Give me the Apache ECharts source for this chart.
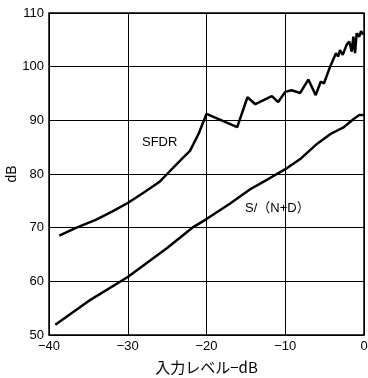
<!DOCTYPE html>
<html><head><meta charset="utf-8">
<script src="https://cdn.jsdelivr.net/npm/echarts@6/dist/echarts.min.js"></script>
<style>html,body{margin:0;padding:0;background:#fff}#c{width:368px;height:378px}</style>
</head><body><div id="c"></div>
<script>
var xTicks = [-40, -30, -20, -10, 0];
var yTicks = [50, 60, 70, 80, 90, 100, 110];
var sfdrX = [-38.7,-36.5,-34,-32,-30,-28,-26,-25,-24,-23,-22.1,-21,-20,-16.1,-14.8,-13.8,-11.7,-10.9,-10.0,-9.2,-8.1,-7.07,-6.13,-5.5,-5.08,-4.3,-3.56,-3.27,-3.05,-2.7,-2.2,-1.86,-1.56,-1.35,-1.14,-0.93,-0.6,-0.38,-0.09];
var sfdrY = [68.5,70,71.5,73,74.6,76.5,78.5,80,81.5,83,84.3,87.5,91.2,88.75,94.3,93.0,94.5,93.4,95.3,95.6,95.1,97.6,94.7,97.2,96.9,100,102.5,101.9,103.1,102.2,104.1,104.7,102.8,105.6,102.5,106.2,105.6,106.6,106];
var sndX = [-39.2,-35,-30,-25,-21.8,-20,-17,-14.4,-12,-10,-8,-5.9,-4.2,-2.54,-1.27,-0.6,0];
var sndY = [51.9,56.3,60.8,66.2,70,71.6,74.5,77.2,79.2,80.9,82.9,85.7,87.5,88.75,90.3,91,91];
function pairs(xs, ys){ return xs.map(function(x,i){return [x, ys[i]];}); }
var chart = echarts.init(document.getElementById('c'));
var font = 'Liberation Sans, Arial, sans-serif';
chart.setOption({
  animation:false,
  grid:{left:49, right:4, top:13, bottom:43, outerBoundsMode:'none', containLabel:false, show:true, borderColor:'#000', borderWidth:1.5},
  xAxis:{type:'value', min:-40, max:0, interval:10,
    axisLine:{show:false}, axisTick:{show:false},
    splitLine:{show:true, lineStyle:{color:'#000', width:1}},
    axisLabel:{color:'#000', fontSize:13, fontFamily:font, margin:5,
      formatter:function(v){ return v < 0 ? '\u2212' + Math.abs(v) : String(v); }},
    name:'入力レベル−dB', nameLocation:'middle', nameGap:25, nameMoveOverlap:false,
    nameTextStyle:{color:'#000', fontSize:15, fontFamily:'Noto Sans CJK JP, sans-serif'}
  },
  yAxis:{type:'value', min:50, max:110, interval:10,
    axisLine:{show:false}, axisTick:{show:false},
    splitLine:{show:true, lineStyle:{color:'#000', width:1}},
    axisLabel:{color:'#000', fontSize:13, fontFamily:font, margin:5},
    name:'dB', nameLocation:'middle', nameGap:30, nameMoveOverlap:false,
    nameTextStyle:{color:'#000', fontSize:14, fontFamily:font}
  },
  series:[
    {type:'line', data:pairs(sfdrX, sfdrY), showSymbol:false, lineStyle:{color:'#000', width:2.5}},
    {type:'line', data:pairs(sndX, sndY), showSymbol:false, lineStyle:{color:'#000', width:2.5}}
  ],
  graphic:[
    {type:'text', left:142, top:136, style:{text:'SFDR', fill:'#000', font:'13px Liberation Sans, Arial, sans-serif'}},
    {type:'text', left:245, top:202, style:{text:'S/（N+D）', fill:'#000', font:'13px Liberation Sans, Noto Sans CJK JP, sans-serif'}}
  ]
});
</script></body></html>
